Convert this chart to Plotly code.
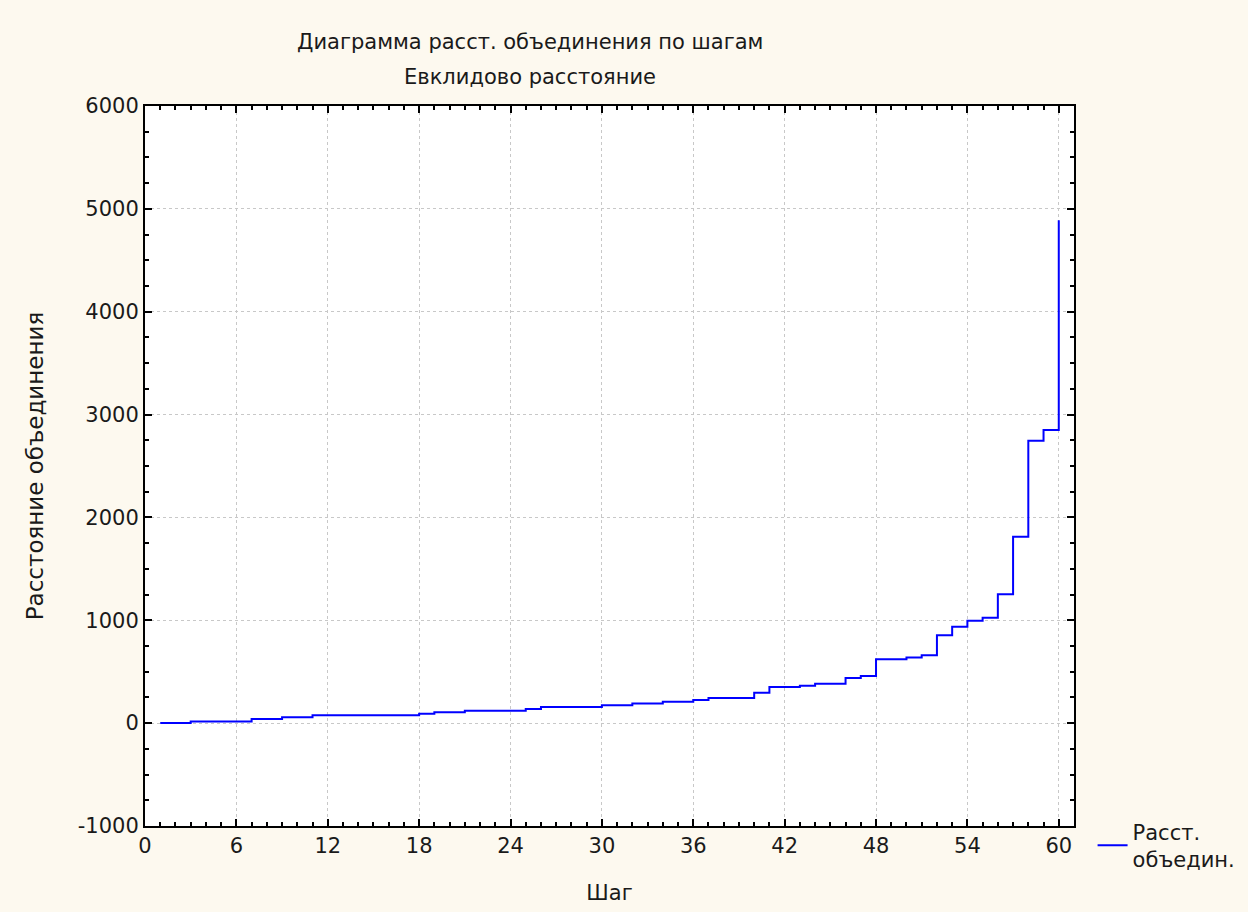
import plotly.graph_objects as go

steps = list(range(1, 61))
distances = [1, 2, 17, 17, 17, 17, 40, 40, 57, 57,
             76, 76, 76, 76, 76, 76, 76, 92, 105, 105,
             121, 121, 121, 121, 138, 157, 157, 157, 157, 173,
             173, 192, 192, 209, 209, 225, 245, 245, 245, 295,
             351, 351, 364, 383, 383, 440, 459, 620, 620, 637,
             660, 855, 936, 995, 1025, 1253, 1811, 2745, 2850, 4890]

title_line1 = "Диаграмма расст. объединения по шагам"
title_line2 = "Евклидово расстояние"
x_title = "Шаг"
y_title = "Расстояние объединения"
series_name = "Расст.<br>объедин."
x_ticks = [0, 6, 12, 18, 24, 30, 36, 42, 48, 54, 60]
y_ticks = [-1000, 0, 1000, 2000, 3000, 4000, 5000, 6000]
y_tick_text = ["-1000", "0", "1000", "2000", "3000", "4000", "5000", "6000"]

FONT = "DejaVu Sans"
BG = "#FDF9EF"
TXT = "#1a1a1a"
FS = 21

fig = go.Figure()
fig.add_trace(go.Scatter(
    x=steps, y=distances, mode="lines", line_shape="hv",
    line=dict(color="#0000FF", width=2), name=series_name,
))

axis_common = dict(
    showline=True, linecolor="black", linewidth=2, mirror="ticks",
    ticks="inside", ticklen=7, tickwidth=2, tickcolor="black",
    showgrid=True, gridcolor="#C8C8C8", griddash="dot", gridwidth=1,
    zeroline=False, automargin=False,
    tickfont=dict(family=FONT, size=FS, color=TXT),
)

fig.update_xaxes(
    range=[0, 61], tickmode="array", tickvals=x_ticks,
    minor=dict(dtick=1, tick0=0, ticks="inside", ticklen=4, tickcolor="black", showgrid=False),
    title=dict(text=x_title, font=dict(family=FONT, size=FS, color=TXT), standoff=28),
    **axis_common,
)
fig.update_yaxes(
    range=[-1000, 6000], tickmode="array", tickvals=y_ticks, ticktext=y_tick_text,
    minor=dict(dtick=250, tick0=0, ticks="inside", ticklen=4, tickcolor="black", showgrid=False),
    title=dict(text=y_title, font=dict(family=FONT, size=FS + 2, color=TXT), standoff=28),
    **axis_common,
)

L, R, T, B = 145, 174, 106, 86
W, H = 1248, 912
pw = W - L - R
ph = H - T - B

def px_to_paper(x, y):
    return (x - L) / pw, (H - B - y) / ph

t1x, t1y = px_to_paper(530, 42)
t2x, t2y = px_to_paper(530, 77)

fig.update_layout(
    width=W, height=H,
    paper_bgcolor=BG, plot_bgcolor="white",
    margin=dict(l=L, r=R, t=T, b=B, autoexpand=False),
    showlegend=True,
    legend=dict(x=1.02, y=-0.027, xanchor="left", yanchor="middle",
                bgcolor="rgba(0,0,0,0)", font=dict(family=FONT, size=FS, color=TXT)),
    annotations=[
        dict(text=title_line1, x=t1x, y=t1y, xref="paper", yref="paper", showarrow=False,
             xanchor="center", yanchor="middle",
             font=dict(family=FONT, size=FS, color=TXT)),
        dict(text=title_line2, x=t2x, y=t2y, xref="paper", yref="paper", showarrow=False,
             xanchor="center", yanchor="middle",
             font=dict(family=FONT, size=FS, color=TXT)),
    ],
)

fig.write_html(
    "out.html",
    config={"displayModeBar": False},
    post_script="document.body.style.margin='0';document.body.style.background='%s';"
                "document.body.style.overflow='hidden';" % BG,
)
